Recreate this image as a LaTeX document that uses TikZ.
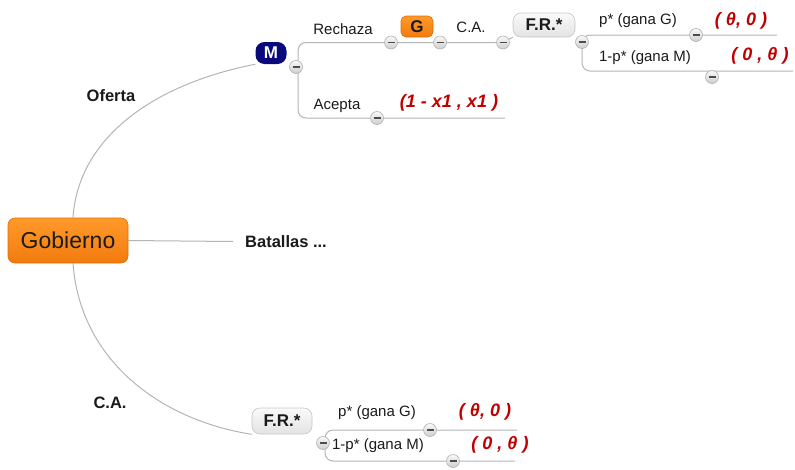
\documentclass[tikz,border=0pt]{standalone}
\usepackage{fontspec}
\setmainfont{Liberation Sans}
\usetikzlibrary{backgrounds}
\definecolor{branch}{HTML}{B4B4B4}
\definecolor{orangeTop}{HTML}{FF9A2A}
\definecolor{orangeBot}{HTML}{F27B0E}
\definecolor{orangeEdge}{HTML}{E06E08}
\definecolor{navyN}{HTML}{0A0A7C}
\definecolor{payred}{HTML}{C00000}
\definecolor{ink}{HTML}{1A1A1A}
\tikzset{
  conn/.style={draw=branch, line width=1pt, rounded corners=8pt},
  hdr/.style={font=\bfseries\fontsize{16.5}{19}\selectfont, text=ink, inner sep=0pt},
  lbl/.style={font=\fontsize{15}{17}\selectfont, text=ink, inner sep=0pt},
  pay/.style={font=\bfseries\itshape\fontsize{18}{20}\selectfont, text=payred, inner sep=0pt},
  btn/.style={circle, minimum size=13pt, inner sep=0pt, draw=gray!60, line width=0.6pt,
    top color=gray!5, bottom color=gray!38,
    path picture={\draw[line width=1.8pt, black!70]
      ([xshift=-3.5pt]path picture bounding box.center) -- ([xshift=3.5pt]path picture bounding box.center);}},
  orangebox/.style={rounded corners=7pt, draw=orangeEdge, line width=0.6pt,
    top color=orangeTop, bottom color=orangeBot, text=ink, inner sep=0pt},
  graybox/.style={rounded corners=8pt, draw=gray!45, line width=0.6pt,
    top color=gray!4, bottom color=gray!22, text=ink, inner sep=0pt,
    font=\bfseries\fontsize{17}{19}\selectfont},
}
\begin{document}
\begin{tikzpicture}[x=1pt, y=-1pt]
  \useasboundingbox (0,0) rectangle (795,469);

  % main topic
  \node[orangebox, minimum width=120pt, minimum height=45pt,
        font=\fontsize{23}{25}\selectfont] (gob) at (68,240.5) {Gobierno};

  % first-level labels
  \node[hdr] (oferta) at (111,96) {Oferta};
  \node[hdr, anchor=west] (bat) at (245,242) {Batallas ...};
  \node[hdr] (ca) at (110,403) {C.A.};

  % Oferta branch
  \node[rounded corners=9pt, fill=navyN, text=white, inner sep=0pt,
        minimum width=31pt, minimum height=22pt,
        font=\bfseries\fontsize{17}{19}\selectfont] (M) at (271,53) {M};
  \node[lbl] (rech) at (343,29) {Rechaza};
  \node[orangebox, rounded corners=5pt, minimum width=32pt, minimum height=21pt,
        font=\bfseries\fontsize{17}{19}\selectfont] (G) at (417,26.5) {G};
  \node[lbl] (ca2) at (471,27) {C.A.};
  \node[graybox, minimum width=62pt, minimum height=24pt] (FRt) at (544,25) {F.R.*};
  \node[lbl] (pG) at (638,21) {p* (gana G)};
  \node[lbl] (pM) at (645,58) {1-p* (gana M)};
  \node[pay] (payt1) at (741,21) {( θ, 0 )};
  \node[pay] (payt2) at (760,56) {( 0 , θ )};
  \node[lbl] (acep) at (337,106) {Acepta};
  \node[pay] (payA) at (449,103) {(1 - x1 , x1 )};

  % C.A. branch
  \node[graybox, minimum width=60pt, minimum height=26pt] (FRb) at (282,421) {F.R.*};
  \node[lbl] (bpG) at (377,413) {p* (gana G)};
  \node[lbl] (bpM) at (378,446) {1-p* (gana M)};
  \node[pay] (payb1) at (485,412) {( θ, 0 )};
  \node[pay] (payb2) at (500,445) {( 0 , θ )};

  % collapse buttons
  \node[btn] (mM) at (296,67) {};
  \node[btn] (m1) at (391,42.5) {};
  \node[btn] (m2) at (440,42.5) {};
  \node[btn] (m3) at (503,42.5) {};
  \node[btn] (m4) at (582,42) {};
  \node[btn] (m5) at (696,35) {};
  \node[btn] (m6) at (712,77) {};
  \node[btn] (mA) at (377,118) {};
  \node[btn] (mF) at (323,443) {};
  \node[btn] (mb1) at (430,430) {};
  \node[btn] (mb2) at (453,461) {};

  % free line ends
  \coordinate (eBat) at (233,241.5);
  \coordinate (eT1) at (777,35);
  \coordinate (eT2) at (793,71);
  \coordinate (eA) at (505,118);
  \coordinate (eB1) at (517,430);
  \coordinate (eB2) at (515,461);

  \begin{scope}[on background layer]
    \draw[conn] (gob.east) -- (eBat);
    \draw[conn] ([xshift=5pt]gob.north) .. controls (78,140) and (150,85) .. (M.south west);
    \draw[conn] ([xshift=5pt]gob.south) .. controls (80,360) and (160,420) .. (FRb.south west);
    % M
    \draw[conn] ([xshift=2pt]mM.center) |- (m1.center);
    \draw[conn] ([xshift=2pt]mM.center) |- (mA.center) -- (eA);
    \draw[conn] (m1.center) -- (m2.center) -- (m3.center) -- (FRt.south west);
    % top F.R.*
    \draw[conn] (m4.center) |- (m5.center) -- (eT1);
    \draw[conn] (m4.center) |- (eT2);
    % bottom F.R.*
    \draw[conn] ([xshift=2pt]mF.center) |- (mb1.center) -- (eB1);
    \draw[conn] ([xshift=2pt]mF.center) |- (mb2.center) -- (eB2);
  \end{scope}
\end{tikzpicture}
\end{document}
